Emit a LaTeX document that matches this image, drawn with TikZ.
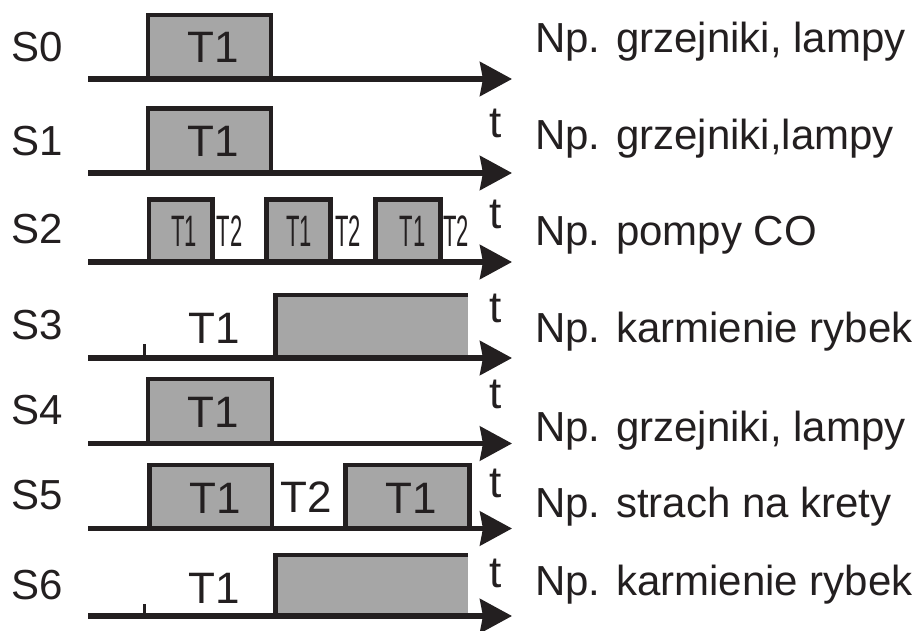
\documentclass[tikz,border=0pt]{standalone}
\usepackage{graphicx}
\usepackage{fontspec}
\setmainfont{Liberation Sans}
\usetikzlibrary{arrows.meta}
\definecolor{ink}{RGB}{35,31,32}
\definecolor{boxgray}{RGB}{166,166,166}
\tikzset{
  axisline/.style={draw=ink, line width=5.5pt, -{Stealth[length=32pt,width=34pt,inset=3pt]}},
  pulseline/.style={draw=ink, line width=4.5pt, line join=miter},
  pulsefill/.style={fill=boxgray},
  tickline/.style={draw=ink, line width=2.2pt},
  slabel/.style={inner sep=0pt, anchor=base west, text=ink, font=\fontsize{42}{46}\selectfont},
  desc/.style={inner sep=0pt, anchor=base west, text=ink, font=\fontsize{42}{46}\selectfont},
  tlabel/.style={inner sep=0pt, anchor=base, text=ink, font=\fontsize{44}{48}\selectfont},
  tnarrow/.style={inner sep=0pt, anchor=base, text=ink, font=\fontsize{44}{48}\selectfont},
  taxis/.style={inner sep=0pt, anchor=base, text=ink, font=\fontsize{44}{48}\selectfont},
}
\newcommand{\narrowtxt}[1]{\scalebox{0.5}[1]{#1}}
\begin{document}
\begin{tikzpicture}[x=1pt,y=-1pt]
\useasboundingbox (0,0) rectangle (915,631);
\fill[white] (0,0) rectangle (915,631);

% ---------- S0 ----------
\fill[pulsefill] (148,79) rectangle (271,15);
\draw[pulseline] (148,79) |- (271,15) -- (271,79);
\coordinate (a0s) at (88,79); \coordinate (a0e) at (512,79);
\draw[axisline] (a0s) -- (a0e);
\node[slabel] (s0) at (11,62) {S0};
\node[tlabel] (s0t1) at (213,63) {T1};
\node[desc] (d0) at (535,53) {Np. grzejniki, lampy};
\node[taxis] (t0) at (496,138) {t};

% ---------- S1 ----------
\fill[pulsefill] (148,173) rectangle (271,108.5);
\draw[pulseline] (148,173) |- (271,108.5) -- (271,173);
\coordinate (a1s) at (88,173); \coordinate (a1e) at (512,173);
\draw[axisline] (a1s) -- (a1e);
\node[slabel] (s1) at (11,156) {S1};
\node[tlabel] (s1t1) at (213,157) {T1};
\node[desc] (d1) at (535,150) {Np. grzejniki,lampy};
\node[taxis] (t1) at (496,229) {t};

% ---------- S2 ----------
\foreach \l/\r in {149/212.5, 266.5/330.5, 375.5/440.5}{
  \fill[pulsefill] (\l,262) rectangle (\r,199.5);
  \draw[pulseline] (\l,262) |- (\r,199.5) -- (\r,262);
}
\coordinate (a2s) at (88,262); \coordinate (a2e) at (512,262);
\draw[axisline] (a2s) -- (a2e);
\node[slabel] (s2) at (11,243) {S2};
\node[tnarrow] (s2a) at (184,246) {\narrowtxt{T1}};
\node[tnarrow] (s2b) at (229.5,246) {\narrowtxt{T2}};
\node[tnarrow] (s2c) at (299,246) {\narrowtxt{T1}};
\node[tnarrow] (s2d) at (348,246) {\narrowtxt{T2}};
\node[tnarrow] (s2e) at (412.5,246) {\narrowtxt{T1}};
\node[tnarrow] (s2f) at (456,246) {\narrowtxt{T2}};
\node[desc] (d2) at (535,245) {Np. pompy CO};
\node[taxis] (t2) at (496,322) {t};

% ---------- S3 ----------
\fill[pulsefill] (275.5,358) rectangle (468,295);
\draw[pulseline] (275.5,358) |- (468,295);
\draw[tickline] (144.5,344) -- (144.5,358);
\coordinate (a3s) at (88,358); \coordinate (a3e) at (512,358);
\draw[axisline] (a3s) -- (a3e);
\node[slabel] (s3) at (11,339) {S3};
\node[tlabel] (s3t1) at (214,343) {T1};
\node[desc] (d3) at (535,342) {Np. karmienie rybek};
\node[taxis] (t3) at (496,408) {t};

% ---------- S4 ----------
\fill[pulsefill] (148,443.5) rectangle (272,379);
\draw[pulseline] (148,443.5) |- (272,379) -- (272,443.5);
\coordinate (a4s) at (88,443.5); \coordinate (a4e) at (512,443.5);
\draw[axisline] (a4s) -- (a4e);
\node[slabel] (s4) at (11,424) {S4};
\node[tlabel] (s4t1) at (213,427) {T1};
\node[desc] (d4) at (535,441) {Np. grzejniki, lampy};
\node[taxis] (t4) at (496,497) {t};

% ---------- S5 ----------
\fill[pulsefill] (149.5,528.5) rectangle (272,465);
\draw[pulseline] (149.5,528.5) |- (272,465) -- (272,528.5);
\fill[pulsefill] (345.5,528.5) rectangle (469.5,465);
\draw[pulseline] (345.5,528.5) |- (469.5,465) -- (469.5,528.5);
\coordinate (a5s) at (88,528.5); \coordinate (a5e) at (512,528.5);
\draw[axisline] (a5s) -- (a5e);
\node[slabel] (s5) at (11,509) {S5};
\node[tlabel] (s5t1) at (215,513) {T1};
\node[tlabel] (s5t2) at (306,512) {T2};
\node[tlabel] (s5t3) at (411,513) {T1};
\node[desc] (d5) at (535,517) {Np. strach na krety};
\node[taxis] (t5) at (496,587) {t};

% ---------- S6 ----------
\fill[pulsefill] (275.5,616) rectangle (468,555);
\draw[pulseline] (275.5,616) |- (468,555);
\draw[tickline] (144.5,604) -- (144.5,616);
\coordinate (a6s) at (88,616); \coordinate (a6e) at (512,616);
\draw[axisline] (a6s) -- (a6e);
\node[slabel] (s6) at (11,599) {S6};
\node[tlabel] (s6t1) at (214,603) {T1};
\node[desc] (d6) at (535,595) {Np. karmienie rybek};
\end{tikzpicture}
\end{document}
